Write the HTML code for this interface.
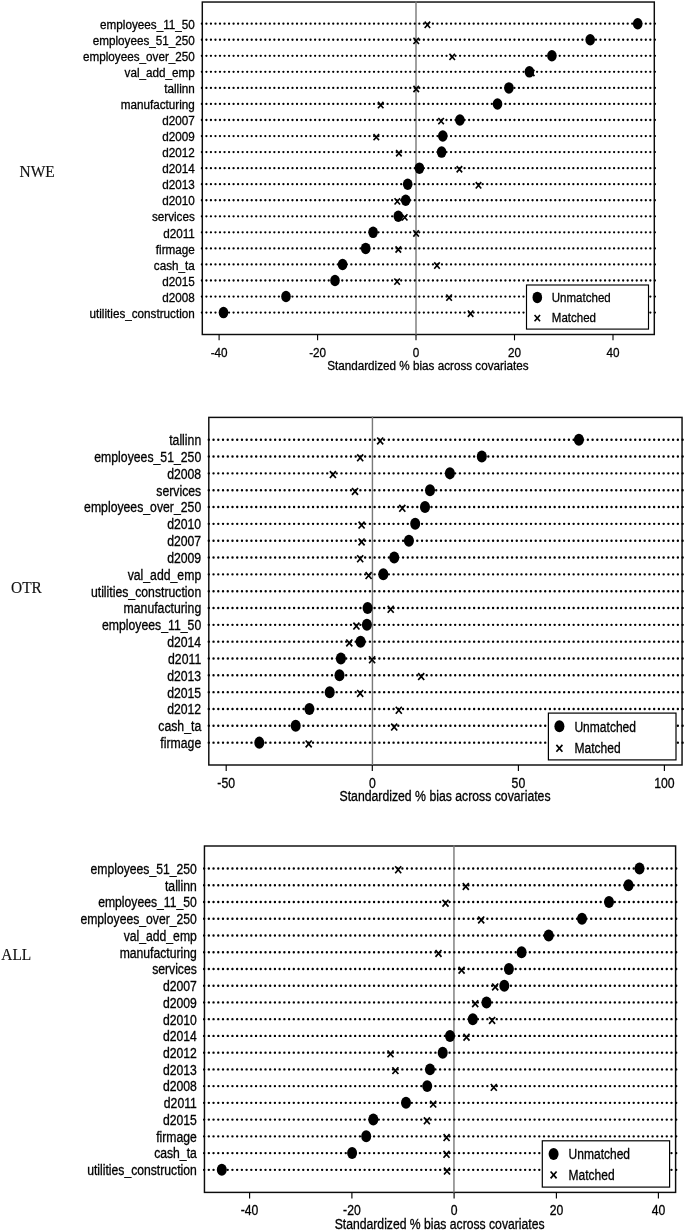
<!DOCTYPE html>
<html><head><meta charset="utf-8"><title>Standardized % bias across covariates</title>
<style>
html,body{margin:0;padding:0;background:#fff}
svg{display:block;will-change:transform}
text{font-family:"Liberation Sans",sans-serif;fill:#000;stroke:#000;stroke-width:0.3}
.g{font-family:"Liberation Serif",serif;fill:#111;stroke:#111;stroke-width:0.15}
</style></head><body>
<svg width="685" height="1231" viewBox="0 0 685 1231">
<rect width="685" height="1231" fill="#fff"/>
<g><!-- NWE -->
<rect x="202.3" y="2.03" width="452" height="332.47" fill="none" stroke="#0c0c0c" stroke-width="1.45"/>
<line x1="416" y1="1.28" x2="416" y2="335.25" stroke="#787878" stroke-width="1.4"/>
<line x1="201.87" y1="23.7" x2="656.07" y2="23.7" stroke="#000" stroke-width="2.3" stroke-linecap="round" stroke-dasharray="0 4.530"/>
<line x1="201.87" y1="39.75" x2="656.07" y2="39.75" stroke="#000" stroke-width="2.3" stroke-linecap="round" stroke-dasharray="0 4.530"/>
<line x1="201.87" y1="55.8" x2="656.07" y2="55.8" stroke="#000" stroke-width="2.3" stroke-linecap="round" stroke-dasharray="0 4.530"/>
<line x1="201.87" y1="71.85" x2="656.07" y2="71.85" stroke="#000" stroke-width="2.3" stroke-linecap="round" stroke-dasharray="0 4.530"/>
<line x1="201.87" y1="87.9" x2="656.07" y2="87.9" stroke="#000" stroke-width="2.3" stroke-linecap="round" stroke-dasharray="0 4.530"/>
<line x1="201.87" y1="103.95" x2="656.07" y2="103.95" stroke="#000" stroke-width="2.3" stroke-linecap="round" stroke-dasharray="0 4.530"/>
<line x1="201.87" y1="120" x2="656.07" y2="120" stroke="#000" stroke-width="2.3" stroke-linecap="round" stroke-dasharray="0 4.530"/>
<line x1="201.87" y1="136.05" x2="656.07" y2="136.05" stroke="#000" stroke-width="2.3" stroke-linecap="round" stroke-dasharray="0 4.530"/>
<line x1="201.87" y1="152.1" x2="656.07" y2="152.1" stroke="#000" stroke-width="2.3" stroke-linecap="round" stroke-dasharray="0 4.530"/>
<line x1="201.87" y1="168.15" x2="656.07" y2="168.15" stroke="#000" stroke-width="2.3" stroke-linecap="round" stroke-dasharray="0 4.530"/>
<line x1="201.87" y1="184.2" x2="656.07" y2="184.2" stroke="#000" stroke-width="2.3" stroke-linecap="round" stroke-dasharray="0 4.530"/>
<line x1="201.87" y1="200.25" x2="656.07" y2="200.25" stroke="#000" stroke-width="2.3" stroke-linecap="round" stroke-dasharray="0 4.530"/>
<line x1="201.87" y1="216.3" x2="656.07" y2="216.3" stroke="#000" stroke-width="2.3" stroke-linecap="round" stroke-dasharray="0 4.530"/>
<line x1="201.87" y1="232.35" x2="656.07" y2="232.35" stroke="#000" stroke-width="2.3" stroke-linecap="round" stroke-dasharray="0 4.530"/>
<line x1="201.87" y1="248.4" x2="656.07" y2="248.4" stroke="#000" stroke-width="2.3" stroke-linecap="round" stroke-dasharray="0 4.530"/>
<line x1="201.87" y1="264.45" x2="656.07" y2="264.45" stroke="#000" stroke-width="2.3" stroke-linecap="round" stroke-dasharray="0 4.530"/>
<line x1="201.87" y1="280.5" x2="656.07" y2="280.5" stroke="#000" stroke-width="2.3" stroke-linecap="round" stroke-dasharray="0 4.530"/>
<line x1="201.87" y1="296.55" x2="656.07" y2="296.55" stroke="#000" stroke-width="2.3" stroke-linecap="round" stroke-dasharray="0 4.530"/>
<line x1="201.87" y1="312.6" x2="656.07" y2="312.6" stroke="#000" stroke-width="2.3" stroke-linecap="round" stroke-dasharray="0 4.530"/>
<path d="M424.65 21.65L430.15 27.95M424.65 27.95L430.15 21.65" stroke="#000" stroke-width="1.6" fill="none"/>
<path d="M413.45 37.7L418.95 44M413.45 44L418.95 37.7" stroke="#000" stroke-width="1.6" fill="none"/>
<path d="M449.45 53.75L454.95 60.05M449.45 60.05L454.95 53.75" stroke="#000" stroke-width="1.6" fill="none"/>
<path d="M528.95 69.8L534.45 76.1M528.95 76.1L534.45 69.8" stroke="#000" stroke-width="1.6" fill="none"/>
<path d="M413.45 85.85L418.95 92.15M413.45 92.15L418.95 85.85" stroke="#000" stroke-width="1.6" fill="none"/>
<path d="M377.95 101.9L383.45 108.2M377.95 108.2L383.45 101.9" stroke="#000" stroke-width="1.6" fill="none"/>
<path d="M438.35 117.95L443.85 124.25M438.35 124.25L443.85 117.95" stroke="#000" stroke-width="1.6" fill="none"/>
<path d="M373.55 134L379.05 140.3M373.55 140.3L379.05 134" stroke="#000" stroke-width="1.6" fill="none"/>
<path d="M396.15 150.05L401.65 156.35M396.15 156.35L401.65 150.05" stroke="#000" stroke-width="1.6" fill="none"/>
<path d="M456.65 166.1L462.15 172.4M456.65 172.4L462.15 166.1" stroke="#000" stroke-width="1.6" fill="none"/>
<path d="M475.75 182.15L481.25 188.45M475.75 188.45L481.25 182.15" stroke="#000" stroke-width="1.6" fill="none"/>
<path d="M394.55 198.2L400.05 204.5M394.55 204.5L400.05 198.2" stroke="#000" stroke-width="1.6" fill="none"/>
<path d="M401.95 214.25L407.45 220.55M401.95 220.55L407.45 214.25" stroke="#000" stroke-width="1.6" fill="none"/>
<path d="M413.35 230.3L418.85 236.6M413.35 236.6L418.85 230.3" stroke="#000" stroke-width="1.6" fill="none"/>
<path d="M395.55 246.35L401.05 252.65M395.55 252.65L401.05 246.35" stroke="#000" stroke-width="1.6" fill="none"/>
<path d="M434.25 262.4L439.75 268.7M434.25 268.7L439.75 262.4" stroke="#000" stroke-width="1.6" fill="none"/>
<path d="M394.35 278.45L399.85 284.75M394.35 284.75L399.85 278.45" stroke="#000" stroke-width="1.6" fill="none"/>
<path d="M446.35 294.5L451.85 300.8M446.35 300.8L451.85 294.5" stroke="#000" stroke-width="1.6" fill="none"/>
<path d="M467.85 310.55L473.35 316.85M467.85 316.85L473.35 310.55" stroke="#000" stroke-width="1.6" fill="none"/>
<ellipse cx="637.7" cy="23.7" rx="4.8" ry="5.75" fill="#000"/>
<ellipse cx="590.2" cy="39.75" rx="4.8" ry="5.75" fill="#000"/>
<ellipse cx="551.9" cy="55.8" rx="4.8" ry="5.75" fill="#000"/>
<ellipse cx="529.4" cy="71.85" rx="4.8" ry="5.75" fill="#000"/>
<ellipse cx="508.9" cy="87.9" rx="4.8" ry="5.75" fill="#000"/>
<ellipse cx="497.5" cy="103.95" rx="4.8" ry="5.75" fill="#000"/>
<ellipse cx="459.9" cy="120" rx="4.8" ry="5.75" fill="#000"/>
<ellipse cx="442.8" cy="136.05" rx="4.8" ry="5.75" fill="#000"/>
<ellipse cx="441.6" cy="152.1" rx="4.8" ry="5.75" fill="#000"/>
<ellipse cx="419.4" cy="168.15" rx="4.8" ry="5.75" fill="#000"/>
<ellipse cx="407.7" cy="184.2" rx="4.8" ry="5.75" fill="#000"/>
<ellipse cx="405.7" cy="200.25" rx="4.8" ry="5.75" fill="#000"/>
<ellipse cx="398.3" cy="216.3" rx="4.8" ry="5.75" fill="#000"/>
<ellipse cx="373.1" cy="232.35" rx="4.8" ry="5.75" fill="#000"/>
<ellipse cx="365.7" cy="248.4" rx="4.8" ry="5.75" fill="#000"/>
<ellipse cx="342.6" cy="264.45" rx="4.8" ry="5.75" fill="#000"/>
<ellipse cx="335" cy="280.5" rx="4.8" ry="5.75" fill="#000"/>
<ellipse cx="286" cy="296.55" rx="4.8" ry="5.75" fill="#000"/>
<ellipse cx="223.5" cy="312.6" rx="4.8" ry="5.75" fill="#000"/>
<rect x="526.5" y="285" width="122" height="44.1" fill="#fff" stroke="#000" stroke-width="1.15"/>
<ellipse cx="537.3" cy="297.4" rx="4.8" ry="5.75" fill="#000"/>
<path d="M534.55 314.95L540.05 321.25M534.55 321.25L540.05 314.95" stroke="#000" stroke-width="1.6" fill="none"/>
<text transform="translate(551.8,302.4) scale(0.85,1)" font-size="13.57" text-anchor="start">Unmatched</text>
<text transform="translate(551.8,322.2) scale(0.85,1)" font-size="13.57" text-anchor="start">Matched</text>
<line x1="219.1" y1="334.5" x2="219.1" y2="340.35" stroke="#000" stroke-width="1.1"/>
<text transform="translate(219.1,356.6) scale(0.88,1)" font-size="13.3" text-anchor="middle">-40</text>
<line x1="317.6" y1="334.5" x2="317.6" y2="340.35" stroke="#000" stroke-width="1.1"/>
<text transform="translate(317.6,356.6) scale(0.88,1)" font-size="13.3" text-anchor="middle">-20</text>
<line x1="416" y1="334.5" x2="416" y2="340.35" stroke="#000" stroke-width="1.1"/>
<text transform="translate(416,356.6) scale(0.88,1)" font-size="13.3" text-anchor="middle">0</text>
<line x1="514.5" y1="334.5" x2="514.5" y2="340.35" stroke="#000" stroke-width="1.1"/>
<text transform="translate(514.5,356.6) scale(0.88,1)" font-size="13.3" text-anchor="middle">20</text>
<line x1="613" y1="334.5" x2="613" y2="340.35" stroke="#000" stroke-width="1.1"/>
<text transform="translate(613,356.6) scale(0.88,1)" font-size="13.3" text-anchor="middle">40</text>
<text transform="translate(427.9,369.6) scale(0.88,1)" font-size="13.3" text-anchor="middle">Standardized % bias across covariates</text>
<text transform="translate(194.8,28.85) scale(0.88,1)" font-size="13.3" text-anchor="end">employees_11_50</text>
<text transform="translate(194.8,44.9) scale(0.88,1)" font-size="13.3" text-anchor="end">employees_51_250</text>
<text transform="translate(194.8,60.95) scale(0.88,1)" font-size="13.3" text-anchor="end">employees_over_250</text>
<text transform="translate(194.8,77) scale(0.88,1)" font-size="13.3" text-anchor="end">val_add_emp</text>
<text transform="translate(194.8,93.05) scale(0.88,1)" font-size="13.3" text-anchor="end">tallinn</text>
<text transform="translate(194.8,109.1) scale(0.88,1)" font-size="13.3" text-anchor="end">manufacturing</text>
<text transform="translate(194.8,125.15) scale(0.88,1)" font-size="13.3" text-anchor="end">d2007</text>
<text transform="translate(194.8,141.2) scale(0.88,1)" font-size="13.3" text-anchor="end">d2009</text>
<text transform="translate(194.8,157.25) scale(0.88,1)" font-size="13.3" text-anchor="end">d2012</text>
<text transform="translate(194.8,173.3) scale(0.88,1)" font-size="13.3" text-anchor="end">d2014</text>
<text transform="translate(194.8,189.35) scale(0.88,1)" font-size="13.3" text-anchor="end">d2013</text>
<text transform="translate(194.8,205.4) scale(0.88,1)" font-size="13.3" text-anchor="end">d2010</text>
<text transform="translate(194.8,221.45) scale(0.88,1)" font-size="13.3" text-anchor="end">services</text>
<text transform="translate(194.8,237.5) scale(0.88,1)" font-size="13.3" text-anchor="end">d2011</text>
<text transform="translate(194.8,253.55) scale(0.88,1)" font-size="13.3" text-anchor="end">firmage</text>
<text transform="translate(194.8,269.6) scale(0.88,1)" font-size="13.3" text-anchor="end">cash_ta</text>
<text transform="translate(194.8,285.65) scale(0.88,1)" font-size="13.3" text-anchor="end">d2015</text>
<text transform="translate(194.8,301.7) scale(0.88,1)" font-size="13.3" text-anchor="end">d2008</text>
<text transform="translate(194.8,317.75) scale(0.88,1)" font-size="13.3" text-anchor="end">utilities_construction</text>
</g>
<g><!-- OTR -->
<rect x="208.8" y="417.4" width="473.25" height="347.6" fill="none" stroke="#0c0c0c" stroke-width="1.45"/>
<line x1="372.43" y1="416.62" x2="372.43" y2="765.78" stroke="#787878" stroke-width="1.4"/>
<line x1="208.8" y1="439.7" x2="683.8" y2="439.7" stroke="#000" stroke-width="2.41" stroke-linecap="round" stroke-dasharray="0 4.738"/>
<line x1="208.8" y1="456.53" x2="683.8" y2="456.53" stroke="#000" stroke-width="2.41" stroke-linecap="round" stroke-dasharray="0 4.738"/>
<line x1="208.8" y1="473.36" x2="683.8" y2="473.36" stroke="#000" stroke-width="2.41" stroke-linecap="round" stroke-dasharray="0 4.738"/>
<line x1="208.8" y1="490.19" x2="683.8" y2="490.19" stroke="#000" stroke-width="2.41" stroke-linecap="round" stroke-dasharray="0 4.738"/>
<line x1="208.8" y1="507.02" x2="683.8" y2="507.02" stroke="#000" stroke-width="2.41" stroke-linecap="round" stroke-dasharray="0 4.738"/>
<line x1="208.8" y1="523.85" x2="683.8" y2="523.85" stroke="#000" stroke-width="2.41" stroke-linecap="round" stroke-dasharray="0 4.738"/>
<line x1="208.8" y1="540.68" x2="683.8" y2="540.68" stroke="#000" stroke-width="2.41" stroke-linecap="round" stroke-dasharray="0 4.738"/>
<line x1="208.8" y1="557.51" x2="683.8" y2="557.51" stroke="#000" stroke-width="2.41" stroke-linecap="round" stroke-dasharray="0 4.738"/>
<line x1="208.8" y1="574.34" x2="683.8" y2="574.34" stroke="#000" stroke-width="2.41" stroke-linecap="round" stroke-dasharray="0 4.738"/>
<line x1="208.8" y1="591.17" x2="683.8" y2="591.17" stroke="#000" stroke-width="2.41" stroke-linecap="round" stroke-dasharray="0 4.738"/>
<line x1="208.8" y1="608" x2="683.8" y2="608" stroke="#000" stroke-width="2.41" stroke-linecap="round" stroke-dasharray="0 4.738"/>
<line x1="208.8" y1="624.83" x2="683.8" y2="624.83" stroke="#000" stroke-width="2.41" stroke-linecap="round" stroke-dasharray="0 4.738"/>
<line x1="208.8" y1="641.66" x2="683.8" y2="641.66" stroke="#000" stroke-width="2.41" stroke-linecap="round" stroke-dasharray="0 4.738"/>
<line x1="208.8" y1="658.49" x2="683.8" y2="658.49" stroke="#000" stroke-width="2.41" stroke-linecap="round" stroke-dasharray="0 4.738"/>
<line x1="208.8" y1="675.32" x2="683.8" y2="675.32" stroke="#000" stroke-width="2.41" stroke-linecap="round" stroke-dasharray="0 4.738"/>
<line x1="208.8" y1="692.15" x2="683.8" y2="692.15" stroke="#000" stroke-width="2.41" stroke-linecap="round" stroke-dasharray="0 4.738"/>
<line x1="208.8" y1="708.98" x2="683.8" y2="708.98" stroke="#000" stroke-width="2.41" stroke-linecap="round" stroke-dasharray="0 4.738"/>
<line x1="208.8" y1="725.81" x2="683.8" y2="725.81" stroke="#000" stroke-width="2.41" stroke-linecap="round" stroke-dasharray="0 4.738"/>
<line x1="208.8" y1="742.64" x2="683.8" y2="742.64" stroke="#000" stroke-width="2.41" stroke-linecap="round" stroke-dasharray="0 4.738"/>
<path d="M377.19 437.51L383.21 444.4M377.19 444.4L383.21 437.51" stroke="#000" stroke-width="1.67" fill="none"/>
<path d="M357.19 454.34L363.21 461.23M357.19 461.23L363.21 454.34" stroke="#000" stroke-width="1.67" fill="none"/>
<path d="M329.89 471.17L335.91 478.06M329.89 478.06L335.91 471.17" stroke="#000" stroke-width="1.67" fill="none"/>
<path d="M351.99 488L358.01 494.89M351.99 494.89L358.01 488" stroke="#000" stroke-width="1.67" fill="none"/>
<path d="M399.29 504.83L405.31 511.72M399.29 511.72L405.31 504.83" stroke="#000" stroke-width="1.67" fill="none"/>
<path d="M358.59 521.66L364.61 528.55M358.59 528.55L364.61 521.66" stroke="#000" stroke-width="1.67" fill="none"/>
<path d="M358.59 538.49L364.61 545.38M358.59 545.38L364.61 538.49" stroke="#000" stroke-width="1.67" fill="none"/>
<path d="M357.19 555.32L363.21 562.21M357.19 562.21L363.21 555.32" stroke="#000" stroke-width="1.67" fill="none"/>
<path d="M365.59 572.15L371.61 579.04M365.59 579.04L371.61 572.15" stroke="#000" stroke-width="1.67" fill="none"/>
<path d="M387.69 605.81L393.71 612.7M387.69 612.7L393.71 605.81" stroke="#000" stroke-width="1.67" fill="none"/>
<path d="M353.39 622.64L359.41 629.53M353.39 629.53L359.41 622.64" stroke="#000" stroke-width="1.67" fill="none"/>
<path d="M346.29 639.47L352.31 646.36M346.29 646.36L352.31 639.47" stroke="#000" stroke-width="1.67" fill="none"/>
<path d="M369.09 656.3L375.11 663.19M369.09 663.19L375.11 656.3" stroke="#000" stroke-width="1.67" fill="none"/>
<path d="M418.19 673.13L424.21 680.02M418.19 680.02L424.21 673.13" stroke="#000" stroke-width="1.67" fill="none"/>
<path d="M357.19 689.96L363.21 696.85M357.19 696.85L363.21 689.96" stroke="#000" stroke-width="1.67" fill="none"/>
<path d="M395.79 706.79L401.81 713.68M395.79 713.68L401.81 706.79" stroke="#000" stroke-width="1.67" fill="none"/>
<path d="M391.19 723.62L397.21 730.51M391.19 730.51L397.21 723.62" stroke="#000" stroke-width="1.67" fill="none"/>
<path d="M305.69 740.45L311.71 747.34M305.69 747.34L311.71 740.45" stroke="#000" stroke-width="1.67" fill="none"/>
<ellipse cx="578.9" cy="439.7" rx="5.02" ry="6.02" fill="#000"/>
<ellipse cx="481.8" cy="456.53" rx="5.02" ry="6.02" fill="#000"/>
<ellipse cx="449.9" cy="473.36" rx="5.02" ry="6.02" fill="#000"/>
<ellipse cx="430" cy="490.19" rx="5.02" ry="6.02" fill="#000"/>
<ellipse cx="425" cy="507.02" rx="5.02" ry="6.02" fill="#000"/>
<ellipse cx="415.2" cy="523.85" rx="5.02" ry="6.02" fill="#000"/>
<ellipse cx="408.9" cy="540.68" rx="5.02" ry="6.02" fill="#000"/>
<ellipse cx="394.2" cy="557.51" rx="5.02" ry="6.02" fill="#000"/>
<ellipse cx="383.3" cy="574.34" rx="5.02" ry="6.02" fill="#000"/>
<ellipse cx="367.6" cy="608" rx="5.02" ry="6.02" fill="#000"/>
<ellipse cx="366.9" cy="624.83" rx="5.02" ry="6.02" fill="#000"/>
<ellipse cx="360.6" cy="641.66" rx="5.02" ry="6.02" fill="#000"/>
<ellipse cx="340.9" cy="658.49" rx="5.02" ry="6.02" fill="#000"/>
<ellipse cx="339.5" cy="675.32" rx="5.02" ry="6.02" fill="#000"/>
<ellipse cx="329.7" cy="692.15" rx="5.02" ry="6.02" fill="#000"/>
<ellipse cx="309.4" cy="708.98" rx="5.02" ry="6.02" fill="#000"/>
<ellipse cx="295.7" cy="725.81" rx="5.02" ry="6.02" fill="#000"/>
<ellipse cx="259.3" cy="742.64" rx="5.02" ry="6.02" fill="#000"/>
<rect x="548.4" y="713.1" width="127.6" height="46.8" fill="#fff" stroke="#000" stroke-width="1.2"/>
<ellipse cx="559.4" cy="726.3" rx="5.02" ry="6.02" fill="#000"/>
<path d="M556.39 744.86L562.41 751.74M556.39 751.74L562.41 744.86" stroke="#000" stroke-width="1.67" fill="none"/>
<text transform="translate(574.4,731.5) scale(0.85,1)" font-size="14.2" text-anchor="start">Unmatched</text>
<text transform="translate(574.4,752.5) scale(0.85,1)" font-size="14.2" text-anchor="start">Matched</text>
<line x1="226.2" y1="765" x2="226.2" y2="771.12" stroke="#000" stroke-width="1.15"/>
<text transform="translate(226.2,787.7) scale(0.88,1)" font-size="13.92" text-anchor="middle">-50</text>
<line x1="372.3" y1="765" x2="372.3" y2="771.12" stroke="#000" stroke-width="1.15"/>
<text transform="translate(372.3,787.7) scale(0.88,1)" font-size="13.92" text-anchor="middle">0</text>
<line x1="518.4" y1="765" x2="518.4" y2="771.12" stroke="#000" stroke-width="1.15"/>
<text transform="translate(518.4,787.7) scale(0.88,1)" font-size="13.92" text-anchor="middle">50</text>
<line x1="664.4" y1="765" x2="664.4" y2="771.12" stroke="#000" stroke-width="1.15"/>
<text transform="translate(664.4,787.7) scale(0.88,1)" font-size="13.92" text-anchor="middle">100</text>
<text transform="translate(445.02,801.2) scale(0.88,1)" font-size="13.92" text-anchor="middle">Standardized % bias across covariates</text>
<text transform="translate(201.2,445.09) scale(0.88,1)" font-size="13.92" text-anchor="end">tallinn</text>
<text transform="translate(201.2,461.92) scale(0.88,1)" font-size="13.92" text-anchor="end">employees_51_250</text>
<text transform="translate(201.2,478.75) scale(0.88,1)" font-size="13.92" text-anchor="end">d2008</text>
<text transform="translate(201.2,495.58) scale(0.88,1)" font-size="13.92" text-anchor="end">services</text>
<text transform="translate(201.2,512.41) scale(0.88,1)" font-size="13.92" text-anchor="end">employees_over_250</text>
<text transform="translate(201.2,529.24) scale(0.88,1)" font-size="13.92" text-anchor="end">d2010</text>
<text transform="translate(201.2,546.07) scale(0.88,1)" font-size="13.92" text-anchor="end">d2007</text>
<text transform="translate(201.2,562.9) scale(0.88,1)" font-size="13.92" text-anchor="end">d2009</text>
<text transform="translate(201.2,579.73) scale(0.88,1)" font-size="13.92" text-anchor="end">val_add_emp</text>
<text transform="translate(201.2,596.56) scale(0.88,1)" font-size="13.92" text-anchor="end">utilities_construction</text>
<text transform="translate(201.2,613.39) scale(0.88,1)" font-size="13.92" text-anchor="end">manufacturing</text>
<text transform="translate(201.2,630.22) scale(0.88,1)" font-size="13.92" text-anchor="end">employees_11_50</text>
<text transform="translate(201.2,647.05) scale(0.88,1)" font-size="13.92" text-anchor="end">d2014</text>
<text transform="translate(201.2,663.88) scale(0.88,1)" font-size="13.92" text-anchor="end">d2011</text>
<text transform="translate(201.2,680.71) scale(0.88,1)" font-size="13.92" text-anchor="end">d2013</text>
<text transform="translate(201.2,697.54) scale(0.88,1)" font-size="13.92" text-anchor="end">d2015</text>
<text transform="translate(201.2,714.37) scale(0.88,1)" font-size="13.92" text-anchor="end">d2012</text>
<text transform="translate(201.2,731.2) scale(0.88,1)" font-size="13.92" text-anchor="end">cash_ta</text>
<text transform="translate(201.2,748.03) scale(0.88,1)" font-size="13.92" text-anchor="end">firmage</text>
</g>
<g><!-- ALL -->
<rect x="204.45" y="846" width="471.15" height="346.4" fill="none" stroke="#0c0c0c" stroke-width="1.45"/>
<line x1="453.95" y1="845.22" x2="453.95" y2="1193.18" stroke="#787878" stroke-width="1.4"/>
<line x1="204.1" y1="868.5" x2="677.4" y2="868.5" stroke="#000" stroke-width="2.39" stroke-linecap="round" stroke-dasharray="0 4.721"/>
<line x1="204.1" y1="885.24" x2="677.4" y2="885.24" stroke="#000" stroke-width="2.39" stroke-linecap="round" stroke-dasharray="0 4.721"/>
<line x1="204.1" y1="901.98" x2="677.4" y2="901.98" stroke="#000" stroke-width="2.39" stroke-linecap="round" stroke-dasharray="0 4.721"/>
<line x1="204.1" y1="918.72" x2="677.4" y2="918.72" stroke="#000" stroke-width="2.39" stroke-linecap="round" stroke-dasharray="0 4.721"/>
<line x1="204.1" y1="935.46" x2="677.4" y2="935.46" stroke="#000" stroke-width="2.39" stroke-linecap="round" stroke-dasharray="0 4.721"/>
<line x1="204.1" y1="952.2" x2="677.4" y2="952.2" stroke="#000" stroke-width="2.39" stroke-linecap="round" stroke-dasharray="0 4.721"/>
<line x1="204.1" y1="968.94" x2="677.4" y2="968.94" stroke="#000" stroke-width="2.39" stroke-linecap="round" stroke-dasharray="0 4.721"/>
<line x1="204.1" y1="985.68" x2="677.4" y2="985.68" stroke="#000" stroke-width="2.39" stroke-linecap="round" stroke-dasharray="0 4.721"/>
<line x1="204.1" y1="1002.42" x2="677.4" y2="1002.42" stroke="#000" stroke-width="2.39" stroke-linecap="round" stroke-dasharray="0 4.721"/>
<line x1="204.1" y1="1019.16" x2="677.4" y2="1019.16" stroke="#000" stroke-width="2.39" stroke-linecap="round" stroke-dasharray="0 4.721"/>
<line x1="204.1" y1="1035.9" x2="677.4" y2="1035.9" stroke="#000" stroke-width="2.39" stroke-linecap="round" stroke-dasharray="0 4.721"/>
<line x1="204.1" y1="1052.64" x2="677.4" y2="1052.64" stroke="#000" stroke-width="2.39" stroke-linecap="round" stroke-dasharray="0 4.721"/>
<line x1="204.1" y1="1069.38" x2="677.4" y2="1069.38" stroke="#000" stroke-width="2.39" stroke-linecap="round" stroke-dasharray="0 4.721"/>
<line x1="204.1" y1="1086.12" x2="677.4" y2="1086.12" stroke="#000" stroke-width="2.39" stroke-linecap="round" stroke-dasharray="0 4.721"/>
<line x1="204.1" y1="1102.86" x2="677.4" y2="1102.86" stroke="#000" stroke-width="2.39" stroke-linecap="round" stroke-dasharray="0 4.721"/>
<line x1="204.1" y1="1119.6" x2="677.4" y2="1119.6" stroke="#000" stroke-width="2.39" stroke-linecap="round" stroke-dasharray="0 4.721"/>
<line x1="204.1" y1="1136.34" x2="677.4" y2="1136.34" stroke="#000" stroke-width="2.39" stroke-linecap="round" stroke-dasharray="0 4.721"/>
<line x1="204.1" y1="1153.08" x2="677.4" y2="1153.08" stroke="#000" stroke-width="2.39" stroke-linecap="round" stroke-dasharray="0 4.721"/>
<line x1="204.1" y1="1169.82" x2="677.4" y2="1169.82" stroke="#000" stroke-width="2.39" stroke-linecap="round" stroke-dasharray="0 4.721"/>
<path d="M395.21 866.32L401.19 873.18M395.21 873.18L401.19 866.32" stroke="#000" stroke-width="1.67" fill="none"/>
<path d="M462.81 883.06L468.79 889.92M462.81 889.92L468.79 883.06" stroke="#000" stroke-width="1.67" fill="none"/>
<path d="M442.51 899.8L448.49 906.66M442.51 906.66L448.49 899.8" stroke="#000" stroke-width="1.67" fill="none"/>
<path d="M478.21 916.54L484.19 923.4M478.21 923.4L484.19 916.54" stroke="#000" stroke-width="1.67" fill="none"/>
<path d="M435.51 950.02L441.49 956.88M435.51 956.88L441.49 950.02" stroke="#000" stroke-width="1.67" fill="none"/>
<path d="M458.61 966.76L464.59 973.62M458.61 973.62L464.59 966.76" stroke="#000" stroke-width="1.67" fill="none"/>
<path d="M492.21 983.5L498.19 990.36M492.21 990.36L498.19 983.5" stroke="#000" stroke-width="1.67" fill="none"/>
<path d="M472.21 1000.24L478.19 1007.1M472.21 1007.1L478.19 1000.24" stroke="#000" stroke-width="1.67" fill="none"/>
<path d="M489.11 1016.98L495.09 1023.84M489.11 1023.84L495.09 1016.98" stroke="#000" stroke-width="1.67" fill="none"/>
<path d="M463.51 1033.72L469.49 1040.58M463.51 1040.58L469.49 1033.72" stroke="#000" stroke-width="1.67" fill="none"/>
<path d="M387.51 1050.46L393.49 1057.32M387.51 1057.32L393.49 1050.46" stroke="#000" stroke-width="1.67" fill="none"/>
<path d="M392.41 1067.2L398.39 1074.06M392.41 1074.06L398.39 1067.2" stroke="#000" stroke-width="1.67" fill="none"/>
<path d="M490.81 1083.94L496.79 1090.8M490.81 1090.8L496.79 1083.94" stroke="#000" stroke-width="1.67" fill="none"/>
<path d="M430.21 1100.68L436.19 1107.54M430.21 1107.54L436.19 1100.68" stroke="#000" stroke-width="1.67" fill="none"/>
<path d="M423.91 1117.42L429.89 1124.28M423.91 1124.28L429.89 1117.42" stroke="#000" stroke-width="1.67" fill="none"/>
<path d="M443.61 1134.16L449.59 1141.02M443.61 1141.02L449.59 1134.16" stroke="#000" stroke-width="1.67" fill="none"/>
<path d="M443.51 1150.9L449.49 1157.76M443.51 1157.76L449.49 1150.9" stroke="#000" stroke-width="1.67" fill="none"/>
<path d="M444.01 1167.64L449.99 1174.5M444.01 1174.5L449.99 1167.64" stroke="#000" stroke-width="1.67" fill="none"/>
<ellipse cx="639.5" cy="868.5" rx="5" ry="5.99" fill="#000"/>
<ellipse cx="628.5" cy="885.24" rx="5" ry="5.99" fill="#000"/>
<ellipse cx="609" cy="901.98" rx="5" ry="5.99" fill="#000"/>
<ellipse cx="582" cy="918.72" rx="5" ry="5.99" fill="#000"/>
<ellipse cx="548.7" cy="935.46" rx="5" ry="5.99" fill="#000"/>
<ellipse cx="521.6" cy="952.2" rx="5" ry="5.99" fill="#000"/>
<ellipse cx="508.9" cy="968.94" rx="5" ry="5.99" fill="#000"/>
<ellipse cx="504.3" cy="985.68" rx="5" ry="5.99" fill="#000"/>
<ellipse cx="486.5" cy="1002.42" rx="5" ry="5.99" fill="#000"/>
<ellipse cx="472.8" cy="1019.16" rx="5" ry="5.99" fill="#000"/>
<ellipse cx="450" cy="1035.9" rx="5" ry="5.99" fill="#000"/>
<ellipse cx="442.7" cy="1052.64" rx="5" ry="5.99" fill="#000"/>
<ellipse cx="430" cy="1069.38" rx="5" ry="5.99" fill="#000"/>
<ellipse cx="427.2" cy="1086.12" rx="5" ry="5.99" fill="#000"/>
<ellipse cx="406" cy="1102.86" rx="5" ry="5.99" fill="#000"/>
<ellipse cx="373.3" cy="1119.6" rx="5" ry="5.99" fill="#000"/>
<ellipse cx="366.2" cy="1136.34" rx="5" ry="5.99" fill="#000"/>
<ellipse cx="352.1" cy="1153.08" rx="5" ry="5.99" fill="#000"/>
<ellipse cx="221.8" cy="1169.82" rx="5" ry="5.99" fill="#000"/>
<rect x="542.3" y="1140.8" width="127.3" height="46.3" fill="#fff" stroke="#000" stroke-width="1.2"/>
<ellipse cx="553.6" cy="1153.9" rx="5" ry="5.99" fill="#000"/>
<path d="M550.61 1171.47L556.59 1178.33M550.61 1178.33L556.59 1171.47" stroke="#000" stroke-width="1.67" fill="none"/>
<text transform="translate(568.6,1159.2) scale(0.85,1)" font-size="14.13" text-anchor="start">Unmatched</text>
<text transform="translate(568.6,1179.7) scale(0.85,1)" font-size="14.13" text-anchor="start">Matched</text>
<line x1="249.6" y1="1192.4" x2="249.6" y2="1198.49" stroke="#000" stroke-width="1.15"/>
<text transform="translate(249.6,1214.6) scale(0.88,1)" font-size="13.85" text-anchor="middle">-40</text>
<line x1="351.9" y1="1192.4" x2="351.9" y2="1198.49" stroke="#000" stroke-width="1.15"/>
<text transform="translate(351.9,1214.6) scale(0.88,1)" font-size="13.85" text-anchor="middle">-20</text>
<line x1="454.1" y1="1192.4" x2="454.1" y2="1198.49" stroke="#000" stroke-width="1.15"/>
<text transform="translate(454.1,1214.6) scale(0.88,1)" font-size="13.85" text-anchor="middle">0</text>
<line x1="556.4" y1="1192.4" x2="556.4" y2="1198.49" stroke="#000" stroke-width="1.15"/>
<text transform="translate(556.4,1214.6) scale(0.88,1)" font-size="13.85" text-anchor="middle">20</text>
<line x1="658.4" y1="1192.4" x2="658.4" y2="1198.49" stroke="#000" stroke-width="1.15"/>
<text transform="translate(658.4,1214.6) scale(0.88,1)" font-size="13.85" text-anchor="middle">40</text>
<text transform="translate(439.62,1228.6) scale(0.88,1)" font-size="13.85" text-anchor="middle">Standardized % bias across covariates</text>
<text transform="translate(196.8,873.86) scale(0.88,1)" font-size="13.85" text-anchor="end">employees_51_250</text>
<text transform="translate(196.8,890.6) scale(0.88,1)" font-size="13.85" text-anchor="end">tallinn</text>
<text transform="translate(196.8,907.34) scale(0.88,1)" font-size="13.85" text-anchor="end">employees_11_50</text>
<text transform="translate(196.8,924.08) scale(0.88,1)" font-size="13.85" text-anchor="end">employees_over_250</text>
<text transform="translate(196.8,940.82) scale(0.88,1)" font-size="13.85" text-anchor="end">val_add_emp</text>
<text transform="translate(196.8,957.56) scale(0.88,1)" font-size="13.85" text-anchor="end">manufacturing</text>
<text transform="translate(196.8,974.3) scale(0.88,1)" font-size="13.85" text-anchor="end">services</text>
<text transform="translate(196.8,991.04) scale(0.88,1)" font-size="13.85" text-anchor="end">d2007</text>
<text transform="translate(196.8,1007.78) scale(0.88,1)" font-size="13.85" text-anchor="end">d2009</text>
<text transform="translate(196.8,1024.52) scale(0.88,1)" font-size="13.85" text-anchor="end">d2010</text>
<text transform="translate(196.8,1041.26) scale(0.88,1)" font-size="13.85" text-anchor="end">d2014</text>
<text transform="translate(196.8,1058) scale(0.88,1)" font-size="13.85" text-anchor="end">d2012</text>
<text transform="translate(196.8,1074.74) scale(0.88,1)" font-size="13.85" text-anchor="end">d2013</text>
<text transform="translate(196.8,1091.48) scale(0.88,1)" font-size="13.85" text-anchor="end">d2008</text>
<text transform="translate(196.8,1108.22) scale(0.88,1)" font-size="13.85" text-anchor="end">d2011</text>
<text transform="translate(196.8,1124.96) scale(0.88,1)" font-size="13.85" text-anchor="end">d2015</text>
<text transform="translate(196.8,1141.7) scale(0.88,1)" font-size="13.85" text-anchor="end">firmage</text>
<text transform="translate(196.8,1158.44) scale(0.88,1)" font-size="13.85" text-anchor="end">cash_ta</text>
<text transform="translate(196.8,1175.18) scale(0.88,1)" font-size="13.85" text-anchor="end">utilities_construction</text>
</g>
<!-- group labels -->
<text class="g" transform="translate(19.5,177) scale(0.93,1)" font-size="16.6">NWE</text>
<text class="g" transform="translate(11,592.9) scale(0.93,1)" font-size="16.6">OTR</text>
<text class="g" transform="translate(1.3,960.2) scale(0.93,1)" font-size="16.6">ALL</text>
</svg></body></html>
